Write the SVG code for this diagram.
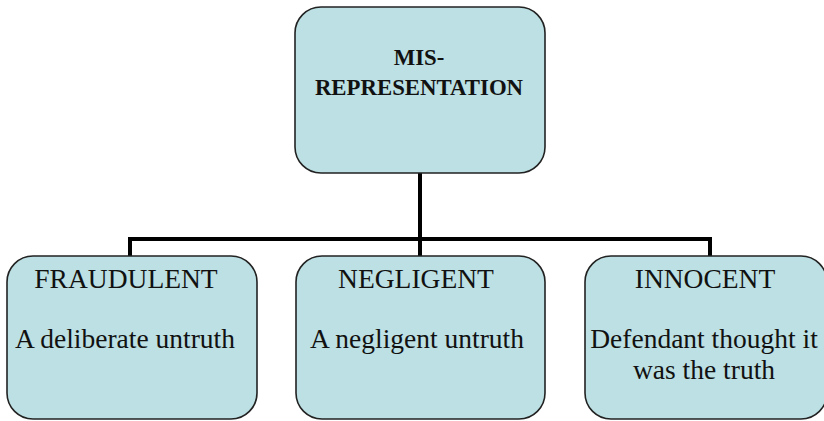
<svg xmlns="http://www.w3.org/2000/svg" width="824" height="421" viewBox="0 0 824 421">
<style>
.box{fill:#bce0e3;stroke:#222;stroke-width:1.6}
.conn{fill:none;stroke:#000;stroke-width:4}
.t{font-family:"Liberation Serif","Times New Roman",serif;fill:#111;text-anchor:middle}
.title{font-size:22.8px;font-weight:bold}
.lbl{font-size:27.5px}
</style>
<rect width="824" height="421" fill="#fff"/>
<g id="connectors">
<path class="conn" d="M420,173 V239 M130,258 V239 H710 V258 M420,239 V256"/>
</g>
<g id="misrepresentation">
<rect class="box" x="295" y="7" width="250" height="166" rx="26"/>
<text class="t title" x="419" y="65">MIS-</text>
<text class="t title" x="419" y="95">REPRESENTATION</text>
</g>
<g id="fraudulent">
<rect class="box" x="7" y="256" width="250" height="163" rx="26"/>
<text class="t lbl" x="126" y="288">FRAUDULENT</text>
<text class="t lbl" x="125" y="348">A deliberate untruth</text>
</g>
<g id="negligent">
<rect class="box" x="296" y="256" width="249" height="163" rx="26"/>
<text class="t lbl" x="416" y="288">NEGLIGENT</text>
<text class="t lbl" x="417" y="348">A negligent untruth</text>
</g>
<g id="innocent">
<rect class="box" x="585" y="256" width="242" height="163" rx="26"/>
<text class="t lbl" x="705" y="288">INNOCENT</text>
<text class="t lbl" x="704" y="348">Defendant thought it</text>
<text class="t lbl" x="704" y="379">was the truth</text>
</g>
</svg>
